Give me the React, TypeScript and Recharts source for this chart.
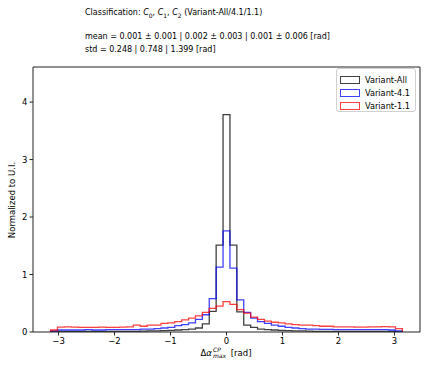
import React from 'react';
import { LineChart, Line, XAxis, YAxis, ReferenceLine } from 'recharts';

// histogram bins over [-pi, pi]
const binCount = 51;
const xTicks = [-3, -2, -1, 0, 1, 2, 3];
const yTicks = [0, 1, 2, 3, 4];

const variantAll = [
  0.005, 0.01, 0.01, 0.01, 0.01, 0.01, 0.01, 0.01, 0.01, 0.01, 0.01, 0.01, 0.012,
  0.015, 0.018, 0.02, 0.025, 0.03, 0.035, 0.04, 0.05, 0.07, 0.14, 0.36, 1.51,
  3.78,
  1.51, 0.35, 0.12, 0.08, 0.05, 0.04, 0.035, 0.03, 0.025, 0.02, 0.018, 0.015, 0.012,
  0.01, 0.01, 0.01, 0.01, 0.01, 0.01, 0.01, 0.01, 0.01, 0.01, 0.01, 0.005,
];

const variant41 = [
  0.02, 0.035, 0.035, 0.035, 0.035, 0.04, 0.035, 0.035, 0.04, 0.04, 0.04, 0.04, 0.04,
  0.05, 0.05, 0.06, 0.07, 0.08, 0.11, 0.13, 0.16, 0.22, 0.3, 0.58, 1.13,
  1.76,
  1.11, 0.56, 0.34, 0.24, 0.18, 0.15, 0.12, 0.1, 0.08, 0.07, 0.06, 0.05, 0.05,
  0.045, 0.045, 0.04, 0.04, 0.04, 0.04, 0.04, 0.04, 0.04, 0.04, 0.035, 0.02,
];

const variant11 = [
  0.035, 0.085, 0.09, 0.085, 0.08, 0.08, 0.08, 0.085, 0.08, 0.08, 0.085, 0.09, 0.12,
  0.1, 0.12, 0.12, 0.15, 0.16, 0.18, 0.21, 0.24, 0.28, 0.34, 0.41, 0.45,
  0.53,
  0.48, 0.39, 0.33, 0.26, 0.22, 0.19, 0.17, 0.16, 0.14, 0.13, 0.12, 0.12, 0.11,
  0.1, 0.1, 0.09, 0.09, 0.09, 0.085, 0.085, 0.09, 0.09, 0.095, 0.09, 0.06,
];

const seriesNames = ['Variant-All', 'Variant-4.1', 'Variant-1.1'];
const seriesColors = ['#000000', '#0000ff', '#ff0000'];
const seriesValues = [variantAll, variant41, variant11];

const binWidth = (2 * Math.PI) / binCount;

// outline of a step histogram, dropping to zero at both ends
const toSteps = (values: number[]) => {
  const pts = [{ x: -Math.PI, y: 0 }];
  values.forEach((v, i) => pts.push({ x: -Math.PI + i * binWidth, y: v }));
  pts.push({ x: Math.PI, y: values[values.length - 1] });
  pts.push({ x: Math.PI, y: 0 });
  return pts;
};

const xMax = 3.456;
const yMax = 4.61;
const font = '"DejaVu Sans", sans-serif';

const LegendBox = () => (
  <div
    style={{
      position: 'absolute',
      left: 336,
      top: 68,
      width: 80,
      height: 44,
      boxSizing: 'border-box',
      border: '1px solid #d0d0d0',
      borderRadius: 3,
      background: '#fff',
      padding: '4px 0 0 3px',
      fontSize: 8.2,
    }}
  >
    {seriesNames.map((name, i) => (
      <div key={name} style={{ display: 'flex', alignItems: 'center', height: 13 }}>
        <span
          style={{
            width: 18,
            height: 6,
            border: `1.3px solid ${seriesColors[i]}`,
            opacity: 0.75,
            marginRight: 5,
          }}
        />
        <span>{name}</span>
      </div>
    ))}
  </div>
);

export default function App() {
  return (
    <div style={{ position: 'absolute', left: 0, top: 0, width: 436, height: 374, background: '#fff', fontFamily: font }}>
      <div style={{ position: 'absolute', left: 85, top: 8, fontSize: 8, whiteSpace: 'nowrap' }}>
        Classification: <i>C</i><sub style={{ fontSize: 6 }}>0</sub>, <i>C</i><sub style={{ fontSize: 6 }}>1</sub>,{' '}
        <i>C</i><sub style={{ fontSize: 6 }}>2</sub> (Variant-All/4.1/1.1)
      </div>
      <div style={{ position: 'absolute', left: 85, top: 32, fontSize: 8, whiteSpace: 'nowrap' }}>
        mean = 0.001 ± 0.001 | 0.002 ± 0.003 | 0.001 ± 0.006 [rad]
      </div>
      <div style={{ position: 'absolute', left: 85, top: 45, fontSize: 8, whiteSpace: 'nowrap' }}>
        std = 0.248 | 0.748 | 1.399 [rad]
      </div>

      <div style={{ position: 'absolute', top: 0, left: 0 }}>
        <LineChart
          width={436}
          height={374}
          margin={{ top: 67, right: 16, bottom: 12, left: 0 }}
          style={{ fontFamily: font }}
        >
          <XAxis
            type="number"
            dataKey="x"
            domain={[-xMax, xMax]}
            ticks={xTicks}
            allowDataOverflow
            height={30}
            tickSize={3.5}
            tick={{ fontSize: 8.5, fill: '#000' }}
            axisLine={{ stroke: '#222' }}
            tickLine={{ stroke: '#222' }}
            tickFormatter={(v: number) => (v < 0 ? `\u2212${-v}` : `${v}`)}
          />
          <YAxis
            type="number"
            dataKey="y"
            domain={[0, yMax]}
            ticks={yTicks}
            allowDataOverflow
            width={33}
            tickSize={3.5}
            tick={{ fontSize: 8.5, fill: '#000' }}
            axisLine={{ stroke: '#222' }}
            tickLine={{ stroke: '#222' }}
          />
          <ReferenceLine y={yMax} stroke="#222" />
          <ReferenceLine x={xMax} stroke="#222" />
          {seriesValues.map((values, i) => (
            <Line
              key={seriesNames[i]}
              data={toSteps(values)}
              dataKey="y"
              name={seriesNames[i]}
              type="stepAfter"
              stroke={seriesColors[i]}
              strokeOpacity={0.75}
              strokeWidth={1.3}
              dot={false}
              activeDot={false}
              isAnimationActive={false}
            />
          ))}
        </LineChart>
      </div>

      <LegendBox />

      <div
        style={{
          position: 'absolute',
          left: 12,
          top: 200,
          fontSize: 8.5,
          whiteSpace: 'nowrap',
          transform: 'translate(-50%, -50%) rotate(-90deg)',
        }}
      >
        Normalized to U.I.
      </div>
      <div
        style={{
          position: 'absolute',
          left: 226,
          top: 353,
          fontSize: 8.5,
          whiteSpace: 'nowrap',
          transform: 'translate(-50%, -50%)',
          display: 'flex',
          alignItems: 'center',
        }}
      >
        <span>Δ<i>α</i></span>
        <span style={{ display: 'inline-flex', flexDirection: 'column', fontSize: 6, lineHeight: '6px', fontStyle: 'italic', margin: '0 2px 0 1px' }}>
          <span>CP</span>
          <span>max</span>
        </span>
        <span>&nbsp;[rad]</span>
      </div>
    </div>
  );
}
